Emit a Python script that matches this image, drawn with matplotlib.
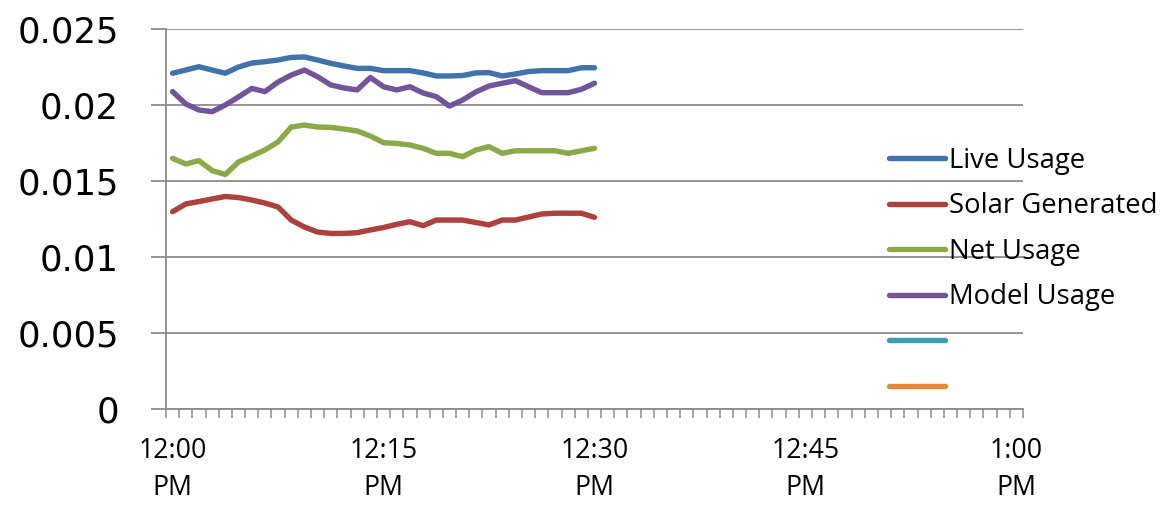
import numpy as np
import matplotlib
matplotlib.use("Agg")
import matplotlib.pyplot as plt
from matplotlib.lines import Line2D

plt.rcParams['font.family'] = ['Open Sans', 'DejaVu Sans']

# Category axis: 65 sample slots covering 12:00 PM to 1:00 PM
n_slots = 65
tick_slots = [0, 16, 32, 48, 64]
tick_labels = ['12:00\nPM', '12:15\nPM', '12:30\nPM', '12:45\nPM', '1:00\nPM']

y_ticks = [0, 0.005, 0.01, 0.015, 0.02, 0.025]
y_tick_labels = ['0', '0.005', '0.01', '0.015', '0.02', '0.025']

live_usage = [0.02209, 0.02230, 0.02252, 0.02230, 0.02209, 0.02250, 0.02276, 0.02285,
              0.02296, 0.02313, 0.02316, 0.02296, 0.02274, 0.02257, 0.02241, 0.02241,
              0.02226, 0.02226, 0.02226, 0.02211, 0.02191, 0.02191, 0.02194, 0.02211,
              0.02213, 0.02191, 0.02204, 0.02220, 0.02226, 0.02226, 0.02226, 0.02245,
              0.02245]
solar_generated = [0.01298, 0.01349, 0.01365, 0.01382, 0.01398, 0.01391, 0.01375, 0.01355,
                   0.01329, 0.01243, 0.01197, 0.01164, 0.01155, 0.01155, 0.01160, 0.01178,
                   0.01194, 0.01215, 0.01232, 0.01206, 0.01243, 0.01243, 0.01243, 0.01227,
                   0.01211, 0.01243, 0.01243, 0.01263, 0.01283, 0.01288, 0.01288, 0.01288,
                   0.01261]
net_usage = [0.01649, 0.01612, 0.01634, 0.01568, 0.01543, 0.01625, 0.01664, 0.01704,
             0.01757, 0.01855, 0.01868, 0.01855, 0.01853, 0.01842, 0.01829, 0.01796,
             0.01752, 0.01747, 0.01737, 0.01715, 0.01682, 0.01682, 0.01660, 0.01704,
             0.01726, 0.01682, 0.01699, 0.01699, 0.01699, 0.01699, 0.01682, 0.01699,
             0.01715]
model_usage = [0.02088, 0.02007, 0.01967, 0.01956, 0.02000, 0.02053, 0.02109, 0.02088,
               0.02151, 0.02197, 0.02230, 0.02186, 0.02132, 0.02112, 0.02099, 0.02181,
               0.02120, 0.02099, 0.02120, 0.02079, 0.02055, 0.01993, 0.02033, 0.02086,
               0.02125, 0.02143, 0.02160, 0.02120, 0.02081, 0.02081, 0.02081, 0.02103,
               0.02143]

series_names = ['Live Usage', 'Solar Generated', 'Net Usage', 'Model Usage', '', '']
series_colors = ['#4272AC', '#AE413E', '#8AAA4A', '#71549A', '#3E9DB5', '#E5873A']
series_values = [live_usage, solar_generated, net_usage, model_usage, [], []]

W, H = 1171, 505
fig = plt.figure(figsize=(W / 100, H / 100), dpi=100)
ax = fig.add_axes([166 / W, 96 / H, (1023 - 166) / W, 380 / H])

grid_color = '#8C8C8C'
lw = 3.9
handles = []
for name, color, vals in zip(series_names, series_colors, series_values):
    x = np.arange(len(vals))
    ax.plot(x, vals, color=color, lw=lw, solid_capstyle='round',
            solid_joinstyle='round', zorder=3)
    handles.append(Line2D([], [], color=color, lw=lw, solid_capstyle='round'))

ax.set_xlim(-0.5, n_slots - 0.5)
ax.set_ylim(0, 0.025)

ax.set_yticks(y_ticks)
ax.set_yticklabels(y_tick_labels, fontsize=25.5, family='DejaVu Sans')
ax.yaxis.grid(True, color=grid_color, lw=1.3)
ax.set_axisbelow(True)
ax.tick_params(axis='y', length=11, width=1.3, color=grid_color, pad=23)

ax.set_xticks(tick_slots)
ax.set_xticklabels(tick_labels, fontsize=19.2, linespacing=1.43)
ax.set_xticks(np.arange(-0.5, n_slots, 1), minor=True)
ax.tick_params(axis='x', which='major', length=0, pad=20)
ax.tick_params(axis='x', which='minor', length=6.5, width=1.1, color=grid_color)

for side in ('top', 'right'):
    ax.spines[side].set_visible(False)
for side in ('left', 'bottom'):
    ax.spines[side].set_color(grid_color)
    ax.spines[side].set_linewidth(1.3)

leg = fig.legend(handles, series_names, loc='upper left',
                 bbox_to_anchor=(889 / W, 1 - 147 / H), frameon=False,
                 fontsize=19.8, handlelength=2.05, handletextpad=0.12,
                 labelspacing=0.635, borderpad=0, borderaxespad=0)

fig.savefig('out.png', dpi=100)
